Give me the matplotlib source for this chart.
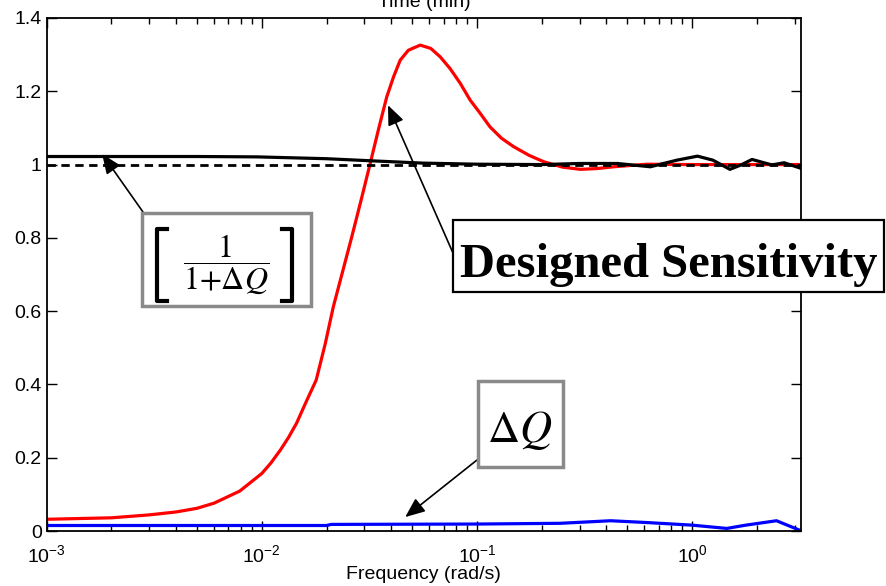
import numpy as np
import matplotlib
matplotlib.use('Agg')
import matplotlib.pyplot as plt
from matplotlib.patches import Rectangle
from matplotlib.lines import Line2D

plt.rcParams['font.family'] = ['Liberation Sans', 'DejaVu Sans']

# %%
# valores
freq_red = [1e-3, 2e-3, 3e-3, 4e-3, 5e-3, 6e-3, 7.9e-3, 1e-2, 1.1e-2, 1.22e-2, 1.33e-2,
            1.45e-2, 1.6e-2, 1.79e-2, 1.97e-2, 2.15e-2, 2.38e-2, 2.62e-2, 2.9e-2, 3.19e-2,
            3.5e-2, 3.81e-2, 4.1e-2, 4.4e-2, 4.8e-2, 5.45e-2, 6.1e-2, 6.75e-2, 7.5e-2,
            8.36e-2, 0.093, 0.1035, 0.115, 0.13, 0.148, 0.175, 0.204, 0.25, 0.302, 0.36,
            0.432, 0.618, 1.0, 1.5, 2.0, 3.2]
sens_red = [0.032, 0.036, 0.044, 0.052, 0.062, 0.076, 0.109, 0.157, 0.185, 0.221, 0.255,
            0.294, 0.350, 0.412, 0.510, 0.612, 0.710, 0.803, 0.905, 1.003,
            1.100, 1.185, 1.240, 1.285, 1.312, 1.326, 1.317, 1.294, 1.262,
            1.222, 1.176, 1.140, 1.103, 1.072, 1.049, 1.025, 1.008, 0.993, 0.987, 0.989,
            0.994, 1.001, 1.0, 1.0, 1.0, 1.0]

freq_blk = [1e-3, 2e-3, 5e-3, 9.5e-3, 2e-2, 3.3e-2, 5.6e-2, 0.1, 0.2, 0.3, 0.45,
            0.64, 0.85, 1.06, 1.25, 1.5, 1.69, 1.9, 2.35, 2.68, 3.2]
inv_blk = [1.022, 1.022, 1.022, 1.021, 1.016, 1.01, 1.004, 1.001, 1.0, 1.003, 1.003,
           0.994, 1.012, 1.023, 1.012, 0.987, 0.999, 1.014, 0.999, 1.005, 0.990]

freq_ref = [1e-3, 3.2]
ref_line = [1.0, 1.0]

freq_blu = [1e-3, 2e-2, 2.1e-2, 0.1, 0.244, 0.418, 0.62, 1.0, 1.45, 1.78, 2.47, 3.2]
dq_blu = [0.015, 0.015, 0.018, 0.019, 0.021, 0.028, 0.023, 0.016, 0.007, 0.016, 0.028, 0.001]

yticks = [0, 0.2, 0.4, 0.6, 0.8, 1.0, 1.2, 1.4]
ytick_labels = ['0', '0.2', '0.4', '0.6', '0.8', '1', '1.2', '1.4']

# %%
W, H = 886, 586
def fx(x):
    return x / W
def fy(y):
    return 1 - y / H

fig = plt.figure(figsize=(W / 100, H / 100), dpi=100)
ax = fig.add_axes([fx(46.7), fy(531), fx(800.7) - fx(46.7), fy(18) - fy(531)])

ax.plot(freq_ref, ref_line, color='k', lw=2.0, ls=(0, (3, 2)), zorder=3)
ax.plot(freq_red, sens_red, color='#ff0000', lw=2.3, zorder=2)
ax.plot(freq_blk, inv_blk, color='k', lw=2.3, zorder=4)
ax.plot(freq_blu, dq_blu, color='#0000ff', lw=2.3, zorder=2)

ax.set_xscale('log')
ax.set_xlim(1e-3, 3.2)
ax.set_ylim(0, 1.4)
ax.set_yticks(yticks)
ax.set_yticklabels(ytick_labels)
ax.tick_params(which='both', direction='in', top=True, right=True, labelsize=14, width=1)
ax.tick_params(which='major', length=7)
ax.tick_params(axis='y', pad=3.5)
ax.tick_params(axis='x', pad=9.5)
ax.tick_params(which='minor', length=4)
for s in ax.spines.values():
    s.set_linewidth(1.3)
ax.set_xlabel('Frequency (rad/s)', fontsize=14, labelpad=0)

fig.text(fx(424), fy(7), 'Time (min)', fontsize=14, ha='center', va='baseline')

# %%
# caixa [1/(1+dQ)]
fig.add_artist(Rectangle((fx(142), fy(306)), fx(311) - fx(142), fy(213) - fy(306),
                         transform=fig.transFigure, facecolor='white', edgecolor='#8a8a8a', lw=2.5))
fig.add_artist(Line2D([fx(167), fx(157), fx(157), fx(167)], [fy(229), fy(229), fy(301), fy(301)],
                      transform=fig.transFigure, color='k', lw=3))
fig.add_artist(Line2D([fx(282), fx(292), fx(292), fx(282)], [fy(229), fy(229), fy(301), fy(301)],
                      transform=fig.transFigure, color='k', lw=3))
fig.text(fx(226), fy(265), r'$\dfrac{1}{1{+}\Delta Q}$', fontsize=23, ha='center', va='center',
         math_fontfamily='stix')

# caixa dQ
fig.add_artist(Rectangle((fx(478), fy(467)), fx(563) - fx(478), fy(381) - fy(467),
                         transform=fig.transFigure, facecolor='white', edgecolor='#8a8a8a', lw=2.5))
fig.text(fx(520), fy(442), r'$\Delta Q$', fontsize=32, ha='center', va='baseline',
         math_fontfamily='stix')

# caixa Designed Sensitivity
fig.add_artist(Rectangle((fx(453), fy(292)), fx(884) - fx(453), fy(220) - fy(292),
                         transform=fig.transFigure, facecolor='white', edgecolor='k', lw=1.6))
fig.text(fx(669), fy(277), 'Designed Sensitivity', fontsize=35, fontweight='bold',
         family='Liberation Serif', ha='center', va='baseline')

arrow = dict(arrowstyle='-|>,head_length=0.6,head_width=0.25', mutation_scale=20,
             color='k', lw=1.2, shrinkA=0, shrinkB=0)
ax.annotate('', xy=(0.0386, 1.162), xytext=(fx(453), fy(253)),
            textcoords='figure fraction', arrowprops=arrow, annotation_clip=False)
ax.annotate('', xy=(1.81e-3, 1.029), xytext=(fx(143), fy(212)),
            textcoords='figure fraction', arrowprops=arrow, annotation_clip=False)
ax.annotate('', xy=(0.0464, 0.038), xytext=(fx(477), fy(460)),
            textcoords='figure fraction', arrowprops=arrow, annotation_clip=False)

plt.savefig('out.png', dpi=100)
